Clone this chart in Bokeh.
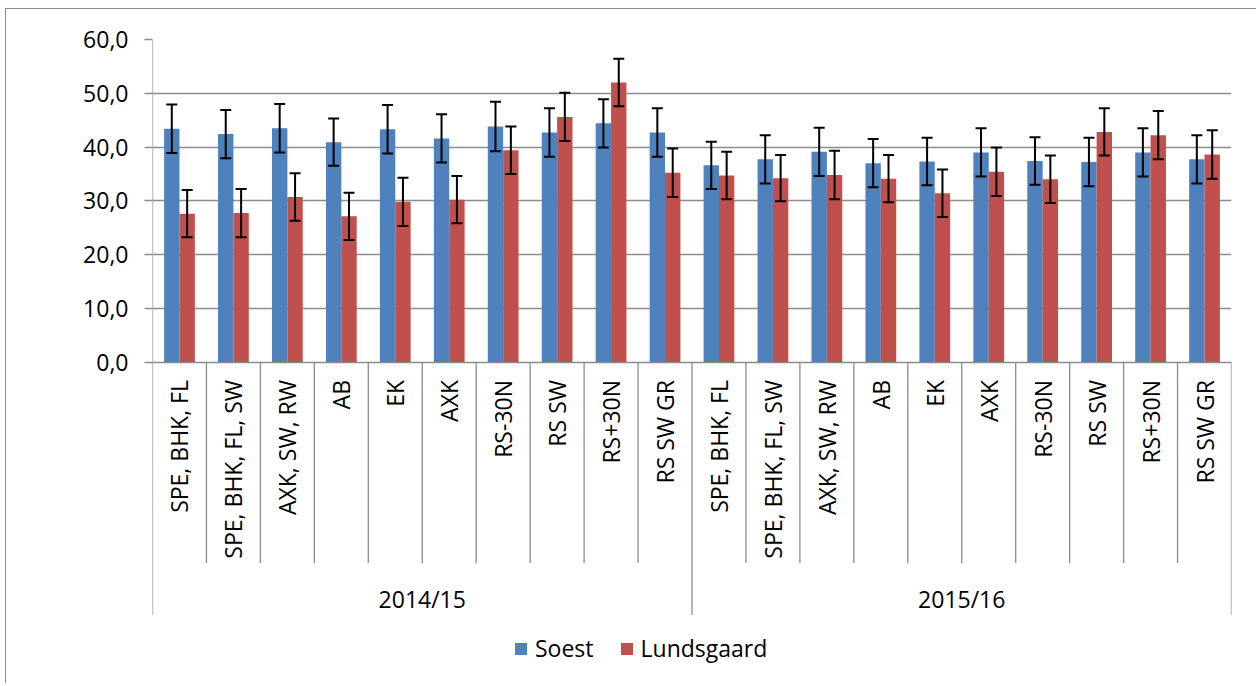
import math
from bokeh.plotting import figure
from bokeh.models import (ColumnDataSource, FactorRange, Range1d, FixedTicker,
                          Whisker, TeeHead, Label)
from bokeh.transform import dodge
from bokeh.core.properties import value
from bokeh.embed import file_html
from bokeh.resources import INLINE

# ---------------- data ----------------
seasons = ["2014/15", "2015/16"]
treatments = ["SPE, BHK, FL", "SPE, BHK, FL, SW", "AXK, SW, RW", "AB", "EK",
              "AXK", "RS-30N", "RS SW", "RS+30N", "RS SW GR"]
series_names = ["Soest", "Lundsgaard"]

soest = [43.4, 42.4, 43.5, 40.9, 43.3, 41.6, 43.8, 42.7, 44.4, 42.7,
         36.6, 37.7, 39.1, 37.0, 37.3, 39.0, 37.4, 37.2, 39.0, 37.7]
soest_err = [4.5, 4.5, 4.5, 4.4, 4.5, 4.5, 4.6, 4.5, 4.5, 4.5,
             4.4, 4.5, 4.5, 4.5, 4.4, 4.5, 4.4, 4.5, 4.5, 4.5]
lund = [27.6, 27.7, 30.7, 27.1, 29.8, 30.2, 39.4, 45.6, 52.0, 35.2,
        34.7, 34.2, 34.8, 34.1, 31.4, 35.4, 34.0, 42.8, 42.2, 38.6]
lund_err = [4.4, 4.5, 4.4, 4.4, 4.5, 4.4, 4.4, 4.5, 4.4, 4.5,
            4.4, 4.3, 4.5, 4.4, 4.4, 4.5, 4.4, 4.4, 4.5, 4.5]

y_ticks = [0, 10, 20, 30, 40, 50, 60]
y_tick_labels = ["0,0", "10,0", "20,0", "30,0", "40,0", "50,0", "60,0"]
y_title = "Ertrag 9% Feuchte (dt/ha)"

# ---------------- styling ----------------
BLUE = "#4F81BD"
RED = "#C0504D"
GRAY = "#8c8c8c"
FONT = "Open Sans"
FS = "23px"

factors = [(s, t) for s in seasons for t in treatments]

src = ColumnDataSource(dict(
    x=factors,
    label=[t for _, t in factors],
    soest=soest,
    lund=lund,
    s_up=[v + e for v, e in zip(soest, soest_err)],
    s_lo=[v - e for v, e in zip(soest, soest_err)],
    l_up=[v + e for v, e in zip(lund, lund_err)],
    l_lo=[v - e for v, e in zip(lund, lund_err)],
))

x_range = FactorRange(*factors, factor_padding=0, group_padding=0,
                      range_padding=0)

p = figure(width=1251, height=675, x_range=x_range, y_range=Range1d(-60, 60),
           output_backend="svg", toolbar_location=None, x_axis_location=None,
           min_border_left=146, min_border_right=26, min_border_top=30,
           min_border_bottom=0, outline_line_color=None,
           background_fill_color="white", border_fill_color="white",
           styles={"margin-left": "5px", "margin-top": "8px",
                   "border-left": "1px solid #8c8c8c",
                   "border-top": "1px solid #8c8c8c"})

p.xgrid.visible = False
p.ygrid.grid_line_color = GRAY
p.ygrid.grid_line_width = 1.3

yax = p.yaxis[0]
yax.ticker = FixedTicker(ticks=y_ticks)
yax.major_label_overrides = {t: l for t, l in zip(y_ticks, y_tick_labels)}
yax.axis_line_color = None
yax.major_tick_line_color = GRAY
yax.major_tick_line_width = 1.3
yax.major_tick_out = 8
yax.major_tick_in = 0
yax.minor_tick_line_color = None
yax.major_label_standoff = 16
yax.major_label_text_font = FONT
yax.major_label_text_font_size = FS
yax.major_label_text_color = "black"

# separator lines (category axis divisions)
n = len(factors)
first_in_group = [i % len(treatments) == 0 for i in range(n)]
sep_src = ColumnDataSource(dict(
    x=factors,
    y0=[60 if i == 0 else 0 for i in range(n)],
    y1=[-47 if f else -37.4 for f in first_in_group],
))
p.segment(x0=dodge("x", -0.5, range=x_range), y0="y0",
          x1=dodge("x", -0.5, range=x_range), y1="y1",
          source=sep_src, line_color=GRAY, line_width=1.3)
end_src = ColumnDataSource(dict(x=[factors[-1]], y0=[0], y1=[-47]))
p.segment(x0=dodge("x", 0.5, range=x_range), y0="y0",
          x1=dodge("x", 0.5, range=x_range), y1="y1",
          source=end_src, line_color=GRAY, line_width=1.3)

# bars
W = 0.285
p.vbar(x=dodge("x", -W / 2, range=x_range), top="soest", width=W, source=src,
       fill_color=BLUE, line_color=None, legend_label=series_names[0])
p.vbar(x=dodge("x", W / 2, range=x_range), top="lund", width=W, source=src,
       fill_color=RED, line_color=None, legend_label=series_names[1])

# error bars
for off, up, lo in ((-W / 2, "s_up", "s_lo"), (W / 2, "l_up", "l_lo")):
    w = Whisker(source=src, base=dodge("x", off, range=x_range),
                upper=up, lower=lo, line_color="black", line_width=2,
                level="overlay",
                upper_head=TeeHead(size=11, line_width=2, line_color="black"),
                lower_head=TeeHead(size=11, line_width=2, line_color="black"))
    p.add_layout(w)

# category labels
p.text(x="x", y=0, text="label", source=src, angle=math.pi / 2,
       text_align="right", text_baseline="middle", y_offset=18,
       text_font=value(FONT), text_font_size=FS, text_color="black")

# season labels
season_src = ColumnDataSource(dict(x=seasons, text=seasons))
p.text(x="x", y=0, text="text", source=season_src, y_offset=237,
       text_align="center", text_baseline="middle",
       text_font=value(FONT), text_font_size=FS, text_color="black")

# y axis title
p.add_layout(Label(x=-95, y=30, x_units="screen", y_units="data",
                   text=y_title, angle=math.pi / 2, text_align="center",
                   text_baseline="middle", text_font=FONT,
                   text_font_size=FS, text_font_style="bold",
                   text_color="black"))

# legend
lg = p.legend[0]
lg.location = (361, 20)
lg.orientation = "horizontal"
lg.border_line_color = None
lg.background_fill_alpha = 0
lg.padding = 0
lg.margin = 0
lg.spacing = 25
lg.label_standoff = 7
lg.glyph_width = 15
lg.glyph_height = 15
lg.label_text_font = FONT
lg.label_text_font_size = FS
lg.label_text_color = "black"

open("out.html", "w").write(file_html(p, INLINE))
